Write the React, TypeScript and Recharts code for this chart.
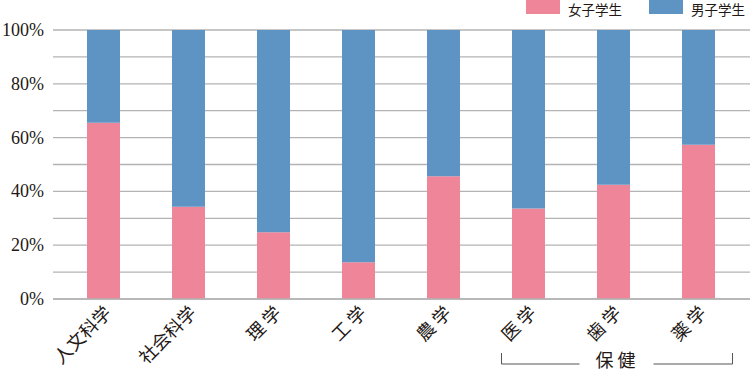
import { BarChart, Bar, XAxis, YAxis, CartesianGrid } from 'recharts';

const categories = ['人文科学', '社会科学', '理 学', '工 学', '農 学', '医 学', '歯 学', '薬 学'];
const femaleShare = [65.5, 34.3, 24.8, 13.7, 45.6, 33.6, 42.5, 57.3];
const maleShare = [34.5, 65.7, 75.2, 86.3, 54.4, 66.4, 57.5, 42.7];
const yTicks = [0, 10, 20, 30, 40, 50, 60, 70, 80, 90, 100];
const seriesNames = ['女子学生', '男子学生'];

const PINK = '#ee8599';
const BLUE = '#5d94c4';
const GRID = '#b3b3b3';
const INK = '#231815';
const CJK = '"Noto Sans CJK JP", sans-serif';

const data = categories.map((name, i) => ({
	name,
	female: femaleShare[i],
	male: maleShare[i],
}));

const YTick = ({ x, y, payload }: any) => {
	if (payload.value % 20 !== 0) return <g />;
	return (
		<text
			x={x}
			y={y}
			textAnchor='end'
			dominantBaseline='central'
			fontFamily='"Liberation Serif", serif'
			fontSize={18}
			fill={INK}
		>
			{payload.value}%
		</text>
	);
};

const XTick = ({ x, y, payload }: any) => {
	const tx = x + 9;
	const ty = y + 15;
	const label = payload.value;
	return (
		<g>
			<text
				x={tx}
				y={ty}
				transform={`rotate(-45 ${tx} ${ty})`}
				textAnchor='end'
				fontFamily={CJK}
				fontSize={18}
				fill={INK}
			>
				{label}
			</text>
			{label === '医 学' && (
				<path
					d={`M${x - 27},${y + 54} V${y + 65} H${x + 51}`}
					stroke='#555'
					strokeWidth={1}
					fill='none'
				/>
			)}
			{label === '歯 学' && (
				<text
					x={x + 2}
					y={y + 60}
					textAnchor='middle'
					dominantBaseline='central'
					fontFamily={CJK}
					fontSize={18}
					fill={INK}
				>
					保 健
				</text>
			)}
			{label === '薬 学' && (
				<path
					d={`M${x - 45},${y + 65} H${x + 34} V${y + 54}`}
					stroke='#555'
					strokeWidth={1}
					fill='none'
				/>
			)}
		</g>
	);
};

const Swatch = ({ color, label, gap }: { color: string; label: string; gap: number }) => (
	<div style={{ display: 'flex', alignItems: 'flex-start', marginRight: gap }}>
		<div style={{ width: 34, height: 14, background: color, marginRight: 8 }} />
		<span
			style={{
				display: 'block',
				fontFamily: CJK,
				fontSize: 13.5,
				color: INK,
				lineHeight: 'normal',
				marginTop: -1,
			}}
		>
			{label}
		</span>
	</div>
);

export default function App() {
	return (
		<div style={{ position: 'absolute', left: 0, top: 0, width: 751, height: 372 }}>
			<div style={{ position: 'absolute', left: 526, top: 0, display: 'flex', zIndex: 1 }}>
				<Swatch color={PINK} label={seriesNames[0]} gap={27} />
				<Swatch color={BLUE} label={seriesNames[1]} gap={0} />
			</div>
			<BarChart
				width={751}
				height={372}
				data={data}
				barSize={33}
				margin={{ top: 30, right: 1, left: 0, bottom: 0 }}
			>
				<CartesianGrid vertical={false} stroke={GRID} strokeWidth={1.3} />
				<XAxis
					dataKey='name'
					height={73}
					interval={0}
					tickLine={false}
					tickSize={0}
					tickMargin={0}
					padding={{ left: 8, right: 9 }}
					axisLine={{ stroke: GRID, strokeWidth: 1.3 }}
					tick={<XTick />}
				/>
				<YAxis
					width={53}
					domain={[0, 100]}
					ticks={yTicks}
					interval={0}
					axisLine={false}
					tickLine={false}
					tickSize={0}
					tickMargin={9}
					tick={<YTick />}
				/>
				<Bar dataKey='female' name={seriesNames[0]} stackId='a' fill={PINK} isAnimationActive={false} />
				<Bar dataKey='male' name={seriesNames[1]} stackId='a' fill={BLUE} isAnimationActive={false} />
			</BarChart>
		</div>
	);
}
